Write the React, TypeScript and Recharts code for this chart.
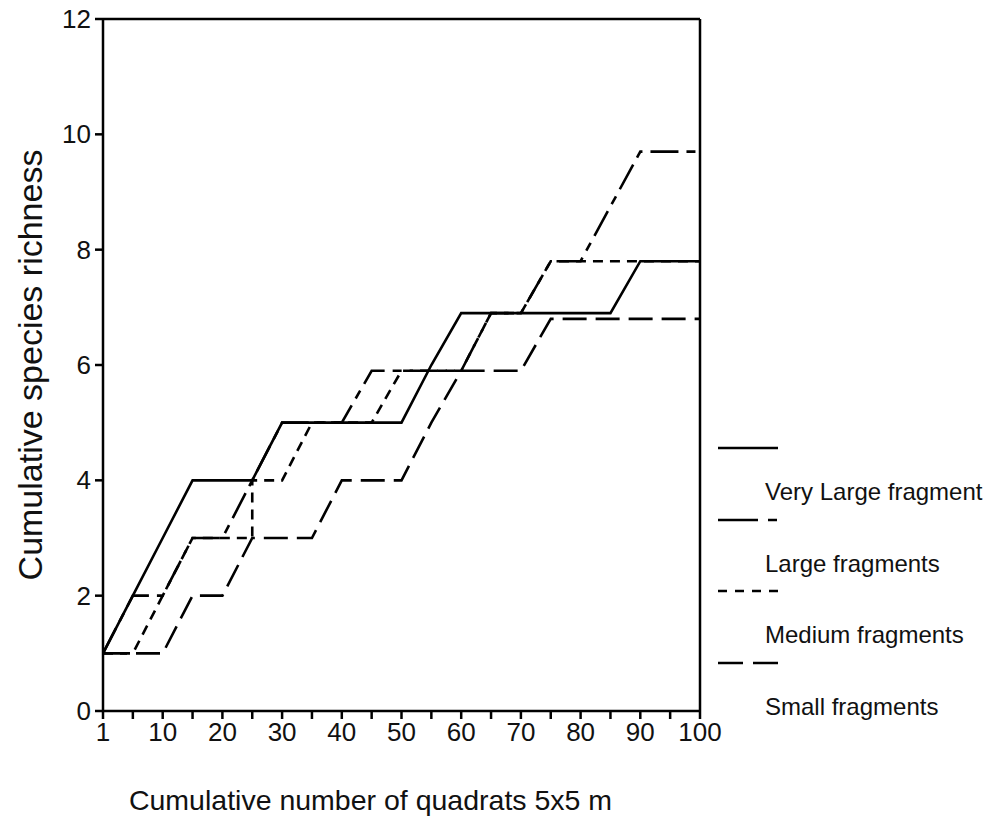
import React from 'react';
import { LineChart, Line, XAxis, YAxis, ReferenceLine } from 'recharts';

const categories = [1, 5, 10, 15, 20, 25, 30, 35, 40, 45, 50, 55, 60, 65, 70, 75, 80, 85, 90, 95, 100];
const xTickLabels = ['1', '10', '20', '30', '40', '50', '60', '70', '80', '90', '100'];
const yTicks = [0, 2, 4, 6, 8, 10, 12];

// cumulative richness, one value per category
const veryLarge = [1, 2, 3, 4, 4, 4, 5, 5, 5, 5, 5, 6, 6.9, 6.9, 6.9, 6.9, 6.9, 6.9, 7.8, 7.8, 7.8];
const large = [1, 2, 2, 3, 3, 4, 5, 5, 5, 5.9, 5.9, 5.9, 5.9, 6.9, 6.9, 7.8, 7.8, 8.75, 9.7, 9.7, 9.7];
const small = [1, 1, 1, 2, 2, 3, 3, 3, 4, 4, 4, 5, 5.9, 5.9, 5.9, 6.8, 6.8, 6.8, 6.8, 6.8, 6.8];
// medium jumps straight up at 25, so it keeps its own quadrat list
const mediumQuadrats = [1, 5, 10, 15, 20, 25, 25, 30, 35, 40, 45, 50, 55, 60, 65, 70, 75, 80, 85, 90, 95, 100];
const medium = [1, 1, 2, 3, 3, 3, 4, 4, 5, 5, 5, 5.9, 5.9, 5.9, 6.9, 6.9, 7.8, 7.8, 7.8, 7.8, 7.8, 7.8];

const FONT = '"Liberation Sans", Arial, Helvetica, sans-serif';

const toPoints = (quadrats: number[], values: number[]) =>
	quadrats.map((q, i) => ({ x: categories.indexOf(q), y: values[i] }));

const series = [
	{ name: 'Very Large fragment', points: toPoints(categories, veryLarge), dash: undefined, legendDash: undefined },
	{ name: 'Large fragments', points: toPoints(categories, large), dash: '28 8 9 8', legendDash: '40 10 9 10' },
	{ name: 'Medium fragments', points: toPoints(mediumQuadrats, medium), dash: '10 7', legendDash: '9 8' },
	{ name: 'Small fragments', points: toPoints(categories, small), dash: '24 9', legendDash: '25 10' },
];

function XTick({ x, y, payload }: any) {
	const i = payload.value;
	if (i % 2 !== 0) return null;
	return (
		<text x={x} y={y} dy={20} textAnchor="middle" fontSize={26} fontFamily={FONT} fill="#111">
			{xTickLabels[i / 2]}
		</text>
	);
}

function YTick({ x, y, payload }: any) {
	return (
		<text x={x} y={y} dy={9} textAnchor="end" fontSize={26} fontFamily={FONT} fill="#111">
			{payload.value}
		</text>
	);
}

function Legend() {
	return (
		<div style={{ position: 'absolute', left: 718, top: 440, width: 269, fontFamily: FONT }}>
			{series.map((s, i) => (
				<div key={s.name} style={{ position: 'absolute', left: 0, top: i * 71.5, width: 269, height: 72 }}>
					<svg width={60} height={16} style={{ position: 'absolute', left: 0, top: 0 }}>
						<line x1={0} y1={8} x2={60} y2={8} stroke="#000" strokeWidth={2.5} strokeDasharray={s.legendDash} />
					</svg>
					<span
						style={{
							position: 'absolute',
							left: 47,
							top: 37,
							fontSize: 24,
							lineHeight: '30px',
							color: '#111',
							whiteSpace: 'nowrap',
						}}
					>
						{s.name}
					</span>
				</div>
			))}
		</div>
	);
}

export default function App() {
	return (
		<div style={{ position: 'absolute', left: 0, top: 0, width: 987, height: 831, background: '#fff' }}>
			<LineChart width={987} height={831} margin={{ top: 19, right: 287, bottom: 60, left: 43 }}>
				<XAxis
					dataKey="x"
					type="number"
					domain={[0, 20]}
					ticks={categories.map((_, i) => i)}
					interval={0}
					height={60}
					tickSize={8}
					tickMargin={2}
					tick={<XTick />}
					axisLine={{ stroke: '#000', strokeWidth: 2.5 }}
					tickLine={{ stroke: '#000', strokeWidth: 2.5 }}
					label={{
						content: ({ viewBox }: any) => (
							<text
								x={viewBox.x + viewBox.width / 2 - 31}
								y={viewBox.y + 99}
								textAnchor="middle"
								fontSize={28.5}
								fontFamily={FONT}
								fill="#111"
							>
								Cumulative number of quadrats 5x5 m
							</text>
						),
					}}
				/>
				<YAxis
					type="number"
					domain={[0, 12]}
					ticks={yTicks}
					interval={0}
					width={60}
					tickSize={8}
					tickMargin={4}
					tick={<YTick />}
					axisLine={{ stroke: '#000', strokeWidth: 2.5 }}
					tickLine={{ stroke: '#000', strokeWidth: 2.5 }}
					label={{
						content: ({ viewBox }: any) => {
							const cx = viewBox.x - 13;
							const cy = viewBox.y + viewBox.height / 2;
							return (
								<text
									x={cx}
									y={cy}
									transform={`rotate(-90 ${cx} ${cy})`}
									textAnchor="middle"
									dominantBaseline="central"
									fontSize={34}
									fontFamily={FONT}
									fill="#111"
								>
									Cumulative species richness
								</text>
							);
						},
					}}
				/>
				<ReferenceLine y={12} stroke="#000" strokeWidth={2.5} />
				<ReferenceLine x={20} stroke="#000" strokeWidth={2.5} />
				{series.map((s) => (
					<Line
						key={s.name}
						data={s.points}
						dataKey="y"
						name={s.name}
						type="linear"
						stroke="#000"
						strokeWidth={2.6}
						strokeDasharray={s.dash}
						dot={false}
						activeDot={false}
						isAnimationActive={false}
					/>
				))}
			</LineChart>
			<Legend />
		</div>
	);
}
